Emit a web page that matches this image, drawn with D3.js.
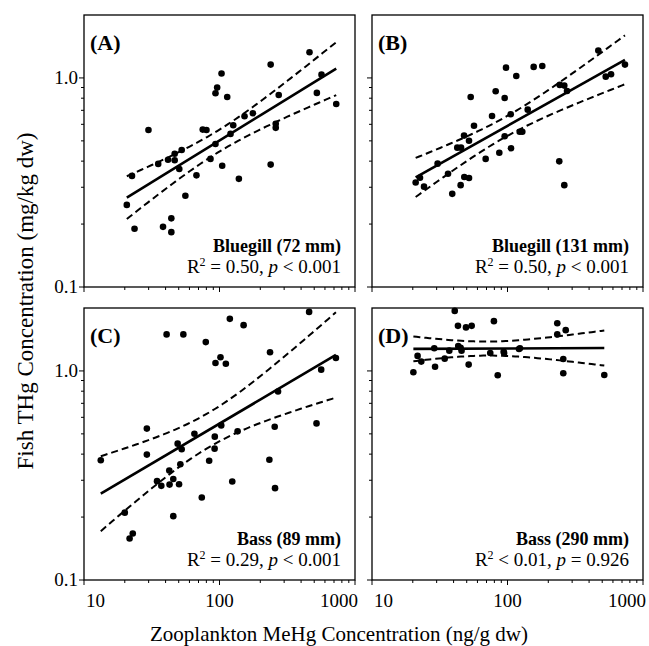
<!DOCTYPE html>
<html>
<head>
<meta charset="utf-8">
<script src="https://cdn.jsdelivr.net/npm/d3@7"></script>
<style>
  body { margin: 0; background: #fff; }
  text { font-family: "Liberation Serif", "Times New Roman", serif; fill: #000; }
</style>
</head>
<body>
<svg width="649" height="646"></svg>
<script>
  // data: [zooplankton MeHg (ng/g dw), fish THg (mg/kg dw)]
  var bluegill72 = [[20.7,0.247],[22.6,0.34],[23.6,0.19],[29.9,0.564],[35.3,0.388],[38.3,0.194],[41.7,0.406],[44.1,0.213],[44.1,0.183],[46.7,0.434],[46.7,0.404],[50.5,0.367],[52.6,0.452],[56.0,0.273],[67.6,0.342],[75.2,0.566],[80.1,0.564],[85.8,0.41],[93.4,0.845],[96.1,0.899],[93.4,0.483],[103.5,1.05],[104.7,0.38],[114,0.811],[120.6,0.54],[126.3,0.594],[139,0.329],[153,0.656],[176.4,0.678],[238.6,1.158],[238.6,0.385],[260,0.604],[260,0.577],[273.5,0.829],[461.6,1.327],[523,0.848],[566,1.037],[727,0.751]];
  var bluegill131 = [[21.0,0.316],[22.6,0.333],[24.2,0.302],[30.5,0.389],[36.4,0.348],[39.1,0.279],[42.6,0.464],[45.4,0.464],[45.1,0.307],[47.8,0.53],[48.0,0.336],[52,0.501],[52,0.332],[53.5,0.811],[56.6,0.591],[69.0,0.41],[76.9,0.658],[81.8,0.864],[87.0,0.439],[95.3,0.802],[95.3,0.526],[97.5,1.12],[105.6,0.67],[106.1,0.461],[116.1,1.022],[123,0.553],[128.6,0.553],[141,0.705],[156,1.129],[180.6,1.141],[241,0.399],[243,0.926],[262.5,0.919],[262.5,0.307],[275,0.866],[468,1.351],[531,1.014],[581,1.042],[736,1.158]];
  var bass89 = [[13.3,0.374],[20.0,0.21],[21.7,0.158],[22.9,0.167],[29.1,0.53],[29.1,0.398],[34.6,0.297],[37.2,0.282],[40.7,1.495],[42.6,0.334],[42.8,0.286],[45.6,0.304],[45.6,0.202],[49.1,0.449],[50.3,0.287],[51.4,0.358],[52.6,0.422],[54.1,1.495],[65.3,0.501],[74,0.248],[79.2,1.374],[83.9,0.372],[92.3,0.485],[92,0.425],[93.4,1.091],[101.7,1.162],[103,0.549],[111.4,1.083],[119.2,1.775],[124.2,0.296],[136,0.514],[150.6,1.656],[233.4,0.376],[236,1.228],[255.5,0.541],[257,0.275],[270.4,0.797],[458.6,1.916],[520,0.561],[563,1.014],[723,1.153]];
  var bass290 = [[20.2,0.986],[21.7,1.18],[23.1,1.108],[28.8,1.283],[29.2,1.048],[34.4,1.145],[37.2,1.25],[40.8,1.937],[43.1,1.643],[43.3,1.315],[45.1,1.29],[45.8,1.25],[49.4,1.615],[51.7,1.072],[54.4,1.643],[74.6,1.218],[79.4,1.73],[84.7,0.954],[93.7,1.236],[94.4,1.218],[121.6,1.273],[123.6,1.283],[233,1.69],[233,1.495],[258,1.141],[258,0.975],[269,1.567],[518,0.957]];

  var panelData = [bluegill72, bluegill131, bass89, bass290];
  var panelLetters = ["(A)", "(B)", "(C)", "(D)"];
  var fishNames = ["Bluegill (72 mm)", "Bluegill (131 mm)", "Bass (89 mm)", "Bass (290 mm)"];
  var r2Text = [" = 0.50, ", " = 0.50, ", " = 0.29, ", " < 0.01, "];
  var pText = [" < 0.001", " < 0.001", " < 0.001", " = 0.926"];
  var xTickLabels = ["10", "100", "1000"];
  var yTickLabels = ["0.1", "1.0"];

  var svg = d3.select("svg");
  var serif = "'Liberation Serif', 'Times New Roman', serif";
  var pw = 271, ph = 272;
  var origins = [[84, 15], [372, 15], [84, 308], [372, 308]];

  // t quantile (97.5%) approx
  function tq(df) {
    var z = 1.959964;
    return z + (z*z*z + z) / (4*df) + (5*Math.pow(z,5) + 16*z*z*z + 3*z) / (96*df*df);
  }

  // linear fit in log-log space
  function fit(pts) {
    var lx = pts.map(function(d) { return Math.log10(d[0]); });
    var ly = pts.map(function(d) { return Math.log10(d[1]); });
    var n = pts.length, mx = d3.mean(lx), my = d3.mean(ly);
    var sxx = d3.sum(lx, function(v) { return (v-mx)*(v-mx); });
    var sxy = d3.sum(lx, function(v, i) { return (v-mx)*(ly[i]-my); });
    var b = sxy / sxx, a = my - b*mx;
    var sse = d3.sum(lx, function(v, i) { return Math.pow(ly[i] - a - b*v, 2); });
    return { a: a, b: b, s: Math.sqrt(sse/(n-2)), n: n, mx: mx, sxx: sxx, t: tq(n-2),
             lo: d3.min(lx), hi: d3.max(lx) };
  }

  var minorX = [], minorY = [];
  [10, 100].forEach(function(d) { for (var k = 2; k < 10; k++) minorX.push(d*k); });
  for (var k = 2; k < 10; k++) minorY.push(0.1*k);

  panelData.forEach(function(pts, i) {
    var ox = origins[i][0], oy = origins[i][1];
    var g = svg.append("g").attr("transform", "translate(" + ox + "," + oy + ")")
      .attr("font-family", serif);
    var x = d3.scaleLog().domain([10, 1000]).range([0, pw]);
    var y = d3.scaleLog().domain([0.1, 2]).range([ph, 0]);

    g.append("clipPath").attr("id", "clip" + i)
      .append("rect").attr("width", pw).attr("height", ph);

    // ticks
    g.selectAll(".xmaj").data([10, 100, 1000]).enter().append("line")
      .attr("x1", x).attr("x2", x).attr("y1", ph).attr("y2", ph + 5)
      .attr("stroke", "#000").attr("stroke-width", 1);
    g.selectAll(".xmin").data(minorX).enter().append("line")
      .attr("x1", x).attr("x2", x).attr("y1", ph).attr("y2", ph + 3)
      .attr("stroke", "#000").attr("stroke-width", 1);
    g.selectAll(".ymaj").data([0.1, 1]).enter().append("line")
      .attr("y1", y).attr("y2", y).attr("x1", 0).attr("x2", -5)
      .attr("stroke", "#000").attr("stroke-width", 1);
    g.selectAll(".ymin").data(minorY).enter().append("line")
      .attr("y1", y).attr("y2", y).attr("x1", 0).attr("x2", -3)
      .attr("stroke", "#000").attr("stroke-width", 1);

    // frame
    g.append("rect").attr("width", pw).attr("height", ph)
      .attr("fill", "none").attr("stroke", "#000").attr("stroke-width", 1.3);

    if (i % 2 == 0) {
      g.selectAll(".ylab").data([0.1, 1]).enter().append("text")
        .attr("x", -6).attr("y", function(d) { return y(d) + 6; })
        .attr("text-anchor", "end").style("font-size", "19px")
        .text(function(d, j) { return yTickLabels[j]; });
    }
    if (i >= 2) {
      var anchors = ["start", "middle", "end"], offs = [2, 0, 3];
      g.selectAll(".xlab").data([10, 100, 1000]).enter().append("text")
        .attr("x", function(d, j) { return x(d) + offs[j]; }).attr("y", ph + 27)
        .attr("text-anchor", function(d, j) { return anchors[j]; })
        .style("font-size", "19px")
        .text(function(d, j) { return xTickLabels[j]; });
    }

    // regression + confidence band
    var f = fit(pts);
    var clip = g.append("g").attr("clip-path", "url(#clip" + i + ")");
    var samples = d3.range(0, 61).map(function(k) { return f.lo + (f.hi - f.lo) * k / 60; });
    function band(sign) {
      return samples.map(function(lx) {
        var se = f.s * Math.sqrt(1/f.n + (lx - f.mx)*(lx - f.mx)/f.sxx);
        return [Math.pow(10, lx), Math.pow(10, f.a + f.b*lx + sign*f.t*se)];
      });
    }
    var line = d3.line().x(function(d) { return x(d[0]); }).y(function(d) { return y(d[1]); });
    [1, -1].forEach(function(s) {
      clip.append("path").attr("d", line(band(s)))
        .attr("fill", "none").attr("stroke", "#000").attr("stroke-width", 2)
        .attr("stroke-dasharray", "7,4");
    });
    clip.append("path")
      .attr("d", line([f.lo, f.hi].map(function(lx) { return [Math.pow(10, lx), Math.pow(10, f.a + f.b*lx)]; })))
      .attr("fill", "none").attr("stroke", "#000").attr("stroke-width", 2.6);

    // points
    g.selectAll(".pt").data(pts).enter().append("circle")
      .attr("cx", function(d) { return x(d[0]); })
      .attr("cy", function(d) { return y(d[1]); })
      .attr("r", 3.3).attr("fill", "#000");

    // labels
    g.append("text").attr("x", 6).attr("y", 35)
      .style("font-size", "22px").style("font-weight", "bold").text(panelLetters[i]);
    g.append("text").attr("x", pw - 14).attr("y", 237).attr("text-anchor", "end")
      .style("font-size", "18px").style("font-weight", "bold").text(fishNames[i]);
    var st = g.append("text").attr("x", pw - 14).attr("y", 258).attr("text-anchor", "end")
      .style("font-size", "19px");
    st.append("tspan").text("R");
    st.append("tspan").attr("dy", -7).style("font-size", "12px").text("2");
    st.append("tspan").attr("dy", 7).text(r2Text[i]);
    st.append("tspan").style("font-style", "italic").text("p");
    st.append("tspan").text(pText[i]);
  });

  // axis titles
  svg.append("text").attr("x", 339).attr("y", 641).attr("text-anchor", "middle")
    .attr("font-family", serif)
    .style("font-size", "21px").text("Zooplankton MeHg Concentration (ng/g dw)");
  svg.append("text").attr("transform", "translate(33,301) rotate(-90)").attr("text-anchor", "middle")
    .attr("font-family", serif)
    .style("font-size", "23px").text("Fish THg Concentration (mg/kg dw)");
</script>
</body>
</html>
